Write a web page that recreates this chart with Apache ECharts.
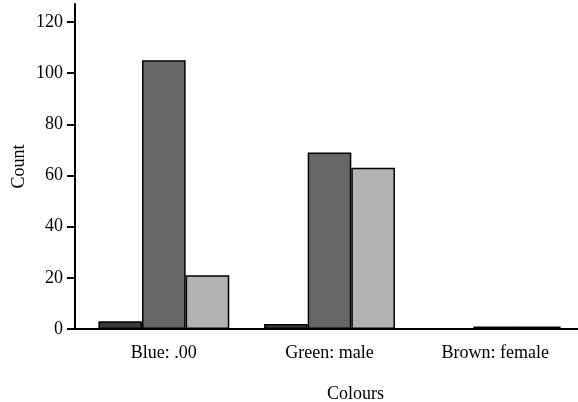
<!DOCTYPE html>
<html>
<head>
<meta charset="utf-8">
<script src="https://cdn.jsdelivr.net/npm/echarts@6/dist/echarts.min.js"></script>
<style>html,body{margin:0;padding:0;background:#fff}#c{width:578px;height:402px}</style>
</head>
<body>
<div id="c"></div>
<script>
const categories = ['Blue: .00', 'Green: male', 'Brown: female'];
const seriesDark = [3, 2, 0];
const seriesMid = [105, 69, 1];
const seriesLight = [21, 63, 1];
const yTicks = [0, 20, 40, 60, 80, 100, 120];

const font = 'Liberation Serif';
const chart = echarts.init(document.getElementById('c'), null, {renderer: 'canvas'});
function bar(data, color) {
  return {
    type: 'bar', data: data, barGap: '0%', barCategoryGap: '21%',
    itemStyle: {color: color, borderColor: '#000', borderWidth: 1.5},
    emphasis: {disabled: true}, animation: false
  };
}
chart.setOption({
  animation: false,
  grid: {left: 81, right: 0, top: 4, bottom: 73, containLabel: false, outerBoundsMode: 'none'},
  xAxis: {
    type: 'category', data: categories,
    name: 'Colours', nameLocation: 'middle', nameGap: 56, nameMoveOverlap: false,
    nameTextStyle: {fontFamily: font, fontSize: 18, color: '#000', padding: [0, 0, 0, 52]},
    axisLine: {lineStyle: {color: '#000', width: 2}},
    axisTick: {alignWithLabel: true, length: 7, lineStyle: {color: '#000', width: 2}},
    axisLabel: {fontFamily: font, fontSize: 18, color: '#000', margin: 15},
    splitLine: {show: false}
  },
  yAxis: {
    type: 'value', min: 0, max: 127, interval: 20, offset: 6,
    name: 'Count', nameLocation: 'middle', nameGap: 47, nameMoveOverlap: false,
    nameTextStyle: {fontFamily: font, fontSize: 18, color: '#000'},
    axisLine: {show: true, lineStyle: {color: '#000', width: 2}},
    axisTick: {show: true, length: 8, customValues: yTicks, lineStyle: {color: '#000', width: 2}},
    axisLabel: {fontFamily: font, fontSize: 18, color: '#000', margin: 12, customValues: yTicks},
    splitLine: {show: false}
  },
  series: [bar(seriesDark, '#3a3a3a'), bar(seriesMid, '#666666'), bar(seriesLight, '#b3b3b3')]
});
const rect = chart.getModel().getComponent('grid').coordinateSystem.getRect();
chart.setOption({
  graphic: [{
    type: 'line', silent: true,
    shape: {x1: rect.x - 7, y1: rect.y + rect.height, x2: rect.x, y2: rect.y + rect.height},
    style: {stroke: '#000', lineWidth: 2}
  }]
});
</script>
</body>
</html>
